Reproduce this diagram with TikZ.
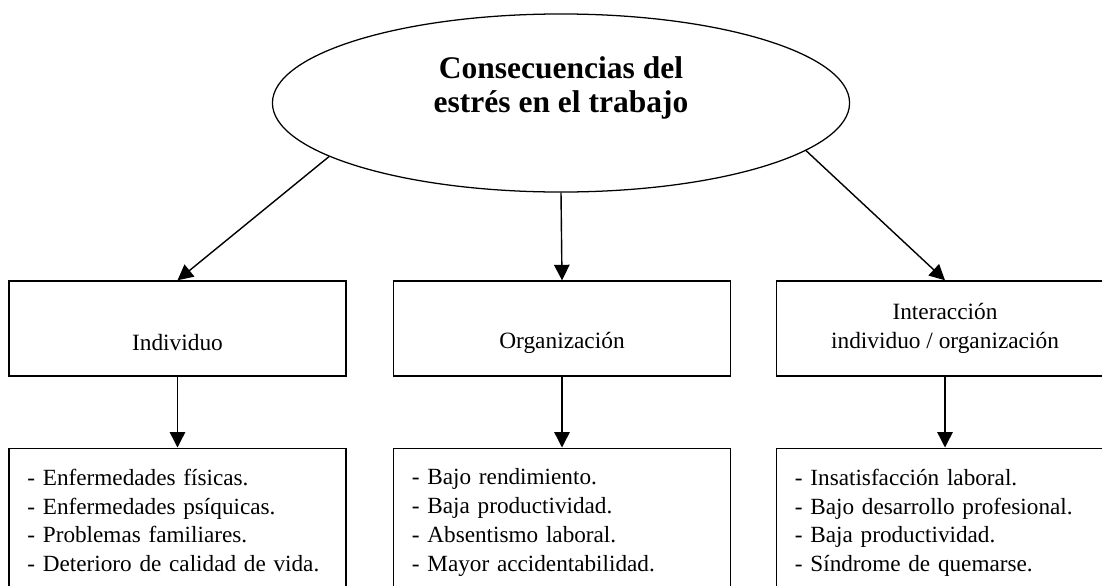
\documentclass[tikz,border=0pt]{standalone}
\usepackage{fontspec}
\setmainfont{Liberation Serif}
\usetikzlibrary{shapes.geometric,arrows.meta}
\tikzset{
	caja/.style={draw, line width=1pt, align=center, minimum width=8.425cm, minimum height=2.375cm, font=\fontsize{16.6}{20}\selectfont},
	lista/.style={draw, line width=1pt, anchor=north, align=left, text width=7.5cm, inner xsep=0.4625cm, inner ysep=0.5125cm, font=\fontsize{16.5}{20.6}\selectfont},
	flecha/.style={line width=1pt, -{Triangle[length=11pt,width=11pt]}}
}
\begin{document}
\begin{tikzpicture}[x=0.025cm,y=0.025cm]
		    	\useasboundingbox (0,0) rectangle (1102,-585);
		    	\clip (0,0) rectangle (1102,-585);
		    	\node[draw, shape=ellipse, line width=0.9pt, inner sep=0pt, minimum width=14.425cm, minimum height=4.45cm] (EL) at (561,-103) {};
		    	\node[align=center, font=\fontsize{22.4}{24}\selectfont\bfseries] (TI) at (561,-88) {Consecuencias del\\estrés en el trabajo};
		    	
		    	\node[caja] (IN) at (177.5,-328.5) {\strut\\[-2pt]Individuo};
		    	\node[caja] (OR) at (562,-328.5) {\strut\\[-2pt]Organización};
		    	\node[caja] (IO) at (945,-328.5) {Interacción\\[1pt]individuo / organización};
		    	
		    	\node[lista] (LA) at (177.5,-447.5) {- Enfermedades físicas.\\- Enfermedades psíquicas.\\- Problemas familiares.\\- Deterioro de calidad de vida.};
		    	\node[lista] (LB) at (562,-447.5) {- Bajo rendimiento.\\- Baja productividad.\\- Absentismo laboral.\\- Mayor accidentabilidad.};
		    	\node[lista] (LC) at (945,-447.5) {- Insatisfacción laboral.\\- Bajo desarrollo profesional.\\- Baja productividad.\\- Síndrome de quemarse.};
		    	
		    	\draw[flecha] (EL.193)--(IN.north);
		    	\draw[flecha] (EL.south)--(OR.north);
		    	\draw[flecha] (EL.349)--(IO.north);
		    	\draw[flecha] (IN.south)--(LA.north);
		    	\draw[flecha] (OR.south)--(LB.north);
	    	    \draw[flecha] (IO.south)--(LC.north);
		    \end{tikzpicture}
\end{document}
